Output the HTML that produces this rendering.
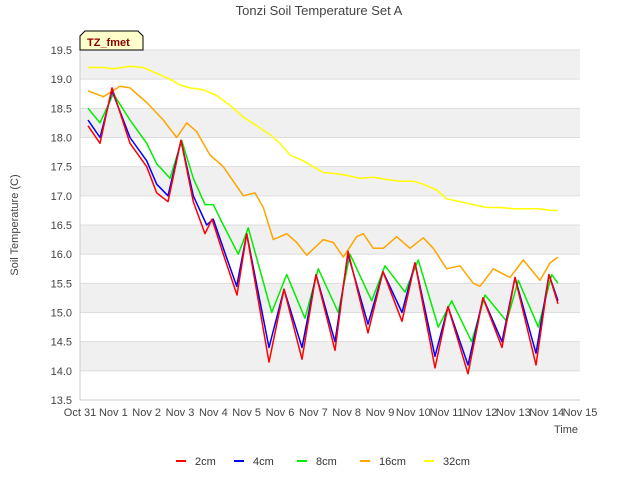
<!DOCTYPE html>
<html><head><meta charset="utf-8"><style>
body{margin:0;background:#fff;font-family:"Liberation Sans",sans-serif}
svg text{font-family:"Liberation Sans",sans-serif}
</style></head><body>
<svg id="chart" width="640" height="480" xmlns="http://www.w3.org/2000/svg">
<text x="319" y="15" text-anchor="middle" font-size="13" fill="#444">Tonzi Soil Temperature Set A</text>
<g id="grid"></g>
<g id="axes"></g>
<g id="series"></g>
<text x="18" y="225" transform="rotate(-90 18 225)" text-anchor="middle" font-size="11" fill="#444">Soil Temperature (C)</text>
<text x="578" y="433" text-anchor="end" font-size="11" fill="#444">Time</text>
<g>
<path d="M80 50 L80 36 L85 31 L138 31 L143 36 L143 50 Z" fill="#ffffcc" stroke="#000" stroke-width="1"/>
<text x="87" y="46" font-size="11" font-weight="bold" fill="#8b0000">TZ_fmet</text>
</g>
<g id="legend"></g>
</svg>
<script>
const yTicks=[13.5,14.0,14.5,15.0,15.5,16.0,16.5,17.0,17.5,18.0,18.5,19.0,19.5];
const xTickLabels=["Oct 31","Nov 1","Nov 2","Nov 3","Nov 4","Nov 5","Nov 6","Nov 7","Nov 8","Nov 9","Nov 10","Nov 11","Nov 12","Nov 13","Nov 14","Nov 15"];
const seriesNames=["2cm","4cm","8cm","16cm","32cm"];
const seriesColors=["#ff0000","#0000ff","#00ee00","#ffa500","#ffff00"];
const days2=[0.24,0.6,0.96,1.5,2.0,2.3,2.64,3.03,3.4,3.75,3.96,4.3,4.71,5.0,5.67,6.12,6.66,7.08,7.65,8.04,8.64,9.09,9.66,10.05,10.65,11.04,11.64,12.09,12.66,13.05,13.68,14.07,14.34];
const vals2=[18.2,17.9,18.85,17.9,17.5,17.05,16.9,17.95,16.9,16.35,16.6,16.0,15.3,16.35,14.15,15.4,14.2,15.65,14.35,16.05,14.65,15.7,14.85,15.85,14.05,15.1,13.95,15.25,14.4,15.6,14.1,15.65,15.15];
const days4=[0.24,0.6,0.96,1.5,2.0,2.3,2.64,3.03,3.4,3.8,4.0,4.3,4.7,5.0,5.67,6.12,6.66,7.08,7.65,8.04,8.64,9.09,9.66,10.05,10.65,11.04,11.64,12.09,12.66,13.05,13.68,14.07,14.34];
const vals4=[18.3,18.0,18.8,18.0,17.6,17.2,17.0,17.95,17.0,16.5,16.6,16.1,15.45,16.35,14.4,15.4,14.4,15.65,14.5,16.0,14.8,15.7,15.0,15.85,14.25,15.1,14.1,15.25,14.5,15.6,14.3,15.65,15.2];
const days8=[0.24,0.6,1.0,1.5,2.0,2.3,2.7,3.05,3.4,3.75,4.0,4.3,4.75,5.05,5.75,6.2,6.75,7.15,7.75,8.1,8.75,9.15,9.75,10.15,10.75,11.15,11.75,12.15,12.8,13.15,13.75,14.15,14.34];
const vals8=[18.5,18.25,18.75,18.3,17.9,17.55,17.3,17.95,17.3,16.85,16.85,16.5,16.0,16.45,15.0,15.65,14.9,15.75,15.0,16.0,15.2,15.8,15.35,15.9,14.75,15.2,14.5,15.3,14.85,15.55,14.75,15.65,15.5];
const days16=[0.24,0.7,1.2,1.5,2.0,2.5,2.9,3.2,3.5,3.9,4.3,4.9,5.25,5.5,5.8,6.2,6.5,6.8,7.3,7.6,7.9,8.3,8.5,8.8,9.1,9.5,9.9,10.3,10.6,11.0,11.4,11.8,12.0,12.4,12.9,13.3,13.8,14.1,14.34];
const vals16=[18.8,18.7,18.88,18.85,18.6,18.3,18.0,18.25,18.1,17.7,17.5,17.0,17.05,16.8,16.25,16.35,16.2,15.98,16.25,16.2,15.95,16.3,16.35,16.1,16.1,16.3,16.1,16.28,16.1,15.75,15.8,15.5,15.45,15.75,15.6,15.9,15.55,15.85,15.95];
const days32=[0.24,0.7,1.0,1.5,1.9,2.3,2.7,3.0,3.3,3.7,4.1,4.5,4.9,5.3,5.7,6.0,6.3,6.7,7.0,7.3,7.7,8.0,8.4,8.8,9.2,9.6,10.0,10.3,10.7,11.0,11.4,11.8,12.2,12.6,13.0,13.4,13.8,14.1,14.34];
const vals32=[19.2,19.2,19.18,19.22,19.2,19.1,19.0,18.9,18.85,18.82,18.72,18.55,18.35,18.2,18.05,17.9,17.7,17.6,17.5,17.4,17.38,17.35,17.3,17.32,17.28,17.25,17.25,17.2,17.1,16.95,16.9,16.85,16.8,16.8,16.78,16.78,16.78,16.75,16.75];
const allDays=[days2,days4,days8,days16,days32];
const allVals=[vals2,vals4,vals8,vals16,vals32];

const X0=80,X1=580,Y0=400,Y1=50,DMIN=0,DMAX=15,VMIN=13.5,VMAX=19.5;
const xs=d=>X0+(d-DMIN)/(DMAX-DMIN)*(X1-X0);
const ys=v=>Y0-(v-VMIN)/(VMAX-VMIN)*(Y0-Y1);
const NS="http://www.w3.org/2000/svg";
function mk(tag,attrs,parent){const e=document.createElementNS(NS,tag);for(const k in attrs)e.setAttribute(k,attrs[k]);parent.appendChild(e);return e;}
const grid=document.getElementById('grid'),axes=document.getElementById('axes'),ser=document.getElementById('series'),leg=document.getElementById('legend');
for(let i=0;i<yTicks.length-1;i++){
  if(i%2===1){const r=mk('rect',{x:X0,y:ys(yTicks[i+1]),width:X1-X0,height:ys(yTicks[i])-ys(yTicks[i+1]),fill:'#f0f0f0'},grid);
  
  }
}
yTicks.forEach(v=>{
  const l=mk('line',{x1:X0,x2:X1,y1:ys(v),y2:ys(v),stroke:'#dddddd','stroke-width':1},grid);
  
  
  const t=mk('text',{x:X0-8,y:ys(v)+4,'text-anchor':'end','font-size':11,fill:'#444'},axes);
  t.textContent=v.toFixed(1);
  
  
});
xTickLabels.forEach((lab,i)=>{
  const t=mk('text',{x:xs(i),y:Y0+16,'text-anchor':'middle','font-size':11,fill:'#444'},axes);
  t.textContent=lab;
  
  
});
mk('line',{x1:X0,x2:X0,y1:Y1,y2:Y0,stroke:'#ccc'},axes);
mk('line',{x1:X0,x2:X1,y1:Y0,y2:Y0,stroke:'#ccc'},axes);
for(let s=4;s>=0;s--){
  const pts=allDays[s].map((d,i)=>xs(d).toFixed(1)+','+ys(allVals[s][i]).toFixed(1)).join(' ');
  const p=mk('polyline',{points:pts,fill:'none',stroke:seriesColors[s],'stroke-width':1.5,'stroke-linejoin':'round'},ser);
  
  
}
const legX=[176,234,297,360,424];
seriesNames.forEach((n,i)=>{
  const g=mk('g',{},leg);
  
  
  mk('line',{x1:legX[i],x2:legX[i]+10,y1:461,y2:461,stroke:seriesColors[i],'stroke-width':2},g);
  const t=mk('text',{x:legX[i]+19,y:465,'font-size':11,fill:'#333'},g);
  t.textContent=n;
});
</script>
</body></html>
